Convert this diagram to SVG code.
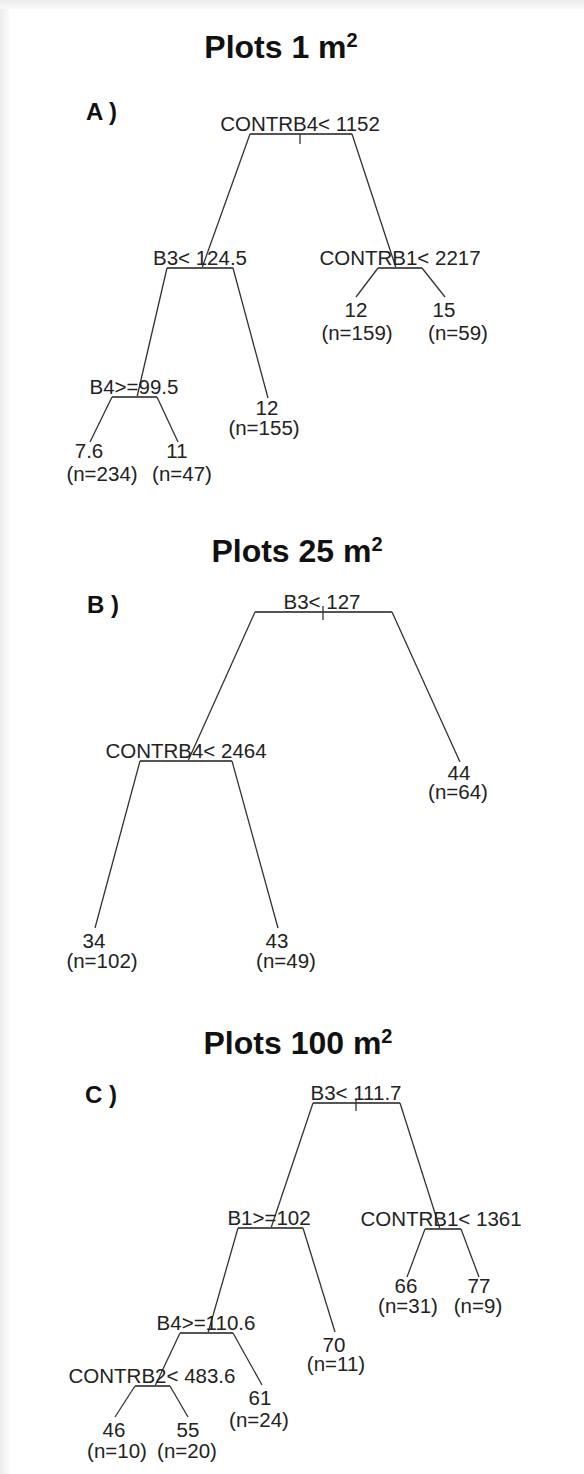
<svg xmlns="http://www.w3.org/2000/svg" width="584" height="1474" viewBox="0 0 584 1474">
<defs>
<linearGradient id="gt" x1="0" y1="0" x2="0" y2="1"><stop offset="0" stop-color="#ececec"/><stop offset="1" stop-color="#f9f9f9"/></linearGradient>
<linearGradient id="gl" x1="0" y1="0" x2="1" y2="0"><stop offset="0" stop-color="#ececec"/><stop offset="1" stop-color="#fafafa"/></linearGradient>
<style>
.title{font-family:"Liberation Sans",Arial,sans-serif;font-weight:bold;font-size:32px;fill:#111;text-anchor:middle}
.sup{font-size:20px}
.panel{font-family:"Liberation Sans",Arial,sans-serif;font-weight:bold;font-size:24px;fill:#111}
.lbl{font-family:"Liberation Sans",Arial,sans-serif;font-size:20.5px;fill:#222;text-anchor:middle}
.br{stroke:#333;stroke-width:1.3;fill:none}
.bar{stroke:#555;stroke-width:1.8;fill:none}
</style>
</defs>
<rect width="584" height="1474" fill="#fff"/>
<rect x="0" y="0" width="584" height="9" fill="url(#gt)"/>
<rect x="0" y="9" width="9" height="1465" fill="url(#gl)"/>

<!-- Panel A -->
<text class="title" x="281" y="58">Plots 1 m<tspan class="sup" dy="-11">2</tspan></text>
<text class="panel" x="86" y="120">A )</text>
<g id="connectors-A">
<line class="bar" x1="250" y1="134" x2="352" y2="134"/>
<line class="br" x1="300" y1="134" x2="300" y2="144"/>
<line class="br" x1="250" y1="134" x2="202" y2="268"/>
<line class="br" x1="352" y1="134" x2="396" y2="268"/>
<line class="bar" x1="167" y1="268" x2="233" y2="268"/>
<line class="br" x1="167" y1="268" x2="137" y2="397"/>
<line class="br" x1="233" y1="268" x2="268" y2="398"/>
<line class="bar" x1="112" y1="397" x2="157" y2="397"/>
<line class="br" x1="112" y1="397" x2="90" y2="442"/>
<line class="br" x1="157" y1="397" x2="178" y2="442"/>
<line class="bar" x1="378" y1="268" x2="422" y2="268"/>
<line class="br" x1="378" y1="268" x2="356" y2="297"/>
<line class="br" x1="422" y1="268" x2="445" y2="297"/>
</g>
<g id="A-root"><text class="lbl" x="300" y="131">CONTRB4&lt; 1152</text></g>
<g id="A-B3"><text class="lbl" x="200" y="265">B3&lt; 124.5</text></g>
<g id="A-B4"><text class="lbl" x="134" y="394">B4&gt;=99.5</text></g>
<g id="A-CONTRB1"><text class="lbl" x="400" y="265">CONTRB1&lt; 2217</text></g>
<g id="A-leaf1"><text class="lbl" x="89" y="458">7.6</text><text class="lbl" x="102" y="481">(n=234)</text></g>
<g id="A-leaf2"><text class="lbl" x="177" y="458">11</text><text class="lbl" x="182" y="481">(n=47)</text></g>
<g id="A-leaf3"><text class="lbl" x="267" y="415">12</text><text class="lbl" x="264" y="435">(n=155)</text></g>
<g id="A-leaf4"><text class="lbl" x="356" y="317">12</text><text class="lbl" x="357" y="340">(n=159)</text></g>
<g id="A-leaf5"><text class="lbl" x="444" y="317">15</text><text class="lbl" x="458" y="340">(n=59)</text></g>

<!-- Panel B -->
<text class="title" x="297" y="562">Plots 25 m<tspan class="sup" dy="-11">2</tspan></text>
<text class="panel" x="87" y="613">B )</text>
<g id="connectors-B">
<line class="bar" x1="255" y1="612" x2="392" y2="612"/>
<line class="br" x1="323" y1="606" x2="323" y2="620"/>
<line class="br" x1="255" y1="612" x2="188" y2="761"/>
<line class="br" x1="392" y1="612" x2="460" y2="762"/>
<line class="bar" x1="140" y1="761" x2="232" y2="761"/>
<line class="br" x1="140" y1="761" x2="95" y2="928"/>
<line class="br" x1="232" y1="761" x2="278" y2="928"/>
</g>
<g id="B-root"><text class="lbl" x="322" y="609">B3&lt; 127</text></g>
<g id="B-CONTRB4"><text class="lbl" x="186" y="758">CONTRB4&lt; 2464</text></g>
<g id="B-leaf1"><text class="lbl" x="94" y="948">34</text><text class="lbl" x="102" y="968">(n=102)</text></g>
<g id="B-leaf2"><text class="lbl" x="277" y="948">43</text><text class="lbl" x="286" y="968">(n=49)</text></g>
<g id="B-leaf3"><text class="lbl" x="459" y="780">44</text><text class="lbl" x="458" y="799">(n=64)</text></g>

<!-- Panel C -->
<text class="title" x="298" y="1054">Plots 100 m<tspan class="sup" dy="-11">2</tspan></text>
<text class="panel" x="85" y="1103">C )</text>
<g id="connectors-C">
<line class="bar" x1="313" y1="1103" x2="400" y2="1103"/>
<line class="br" x1="356" y1="1100" x2="356" y2="1111"/>
<line class="br" x1="313" y1="1103" x2="271" y2="1228"/>
<line class="br" x1="400" y1="1103" x2="440" y2="1229"/>
<line class="bar" x1="238" y1="1228" x2="303" y2="1228"/>
<line class="br" x1="238" y1="1228" x2="208" y2="1333"/>
<line class="br" x1="303" y1="1228" x2="335" y2="1332"/>
<line class="bar" x1="425" y1="1229" x2="461" y2="1229"/>
<line class="br" x1="425" y1="1229" x2="407" y2="1277"/>
<line class="br" x1="461" y1="1229" x2="479" y2="1277"/>
<line class="bar" x1="180" y1="1333" x2="233" y2="1333"/>
<line class="br" x1="180" y1="1333" x2="155" y2="1386"/>
<line class="br" x1="233" y1="1333" x2="262" y2="1385"/>
<line class="bar" x1="135" y1="1386" x2="170" y2="1386"/>
<line class="br" x1="135" y1="1386" x2="115" y2="1417"/>
<line class="br" x1="170" y1="1386" x2="188" y2="1417"/>
</g>
<g id="C-root"><text class="lbl" x="356" y="1100">B3&lt; 111.7</text></g>
<g id="C-B1"><text class="lbl" x="269" y="1225">B1&gt;=102</text></g>
<g id="C-CONTRB1"><text class="lbl" x="441" y="1226">CONTRB1&lt; 1361</text></g>
<g id="C-B4"><text class="lbl" x="206" y="1330">B4&gt;=110.6</text></g>
<g id="C-CONTRB2"><text class="lbl" x="152" y="1383">CONTRB2&lt; 483.6</text></g>
<g id="C-leaf1"><text class="lbl" x="114" y="1437">46</text><text class="lbl" x="117" y="1458">(n=10)</text></g>
<g id="C-leaf2"><text class="lbl" x="188" y="1437">55</text><text class="lbl" x="187" y="1458">(n=20)</text></g>
<g id="C-leaf3"><text class="lbl" x="260" y="1405">61</text><text class="lbl" x="259" y="1427">(n=24)</text></g>
<g id="C-leaf4"><text class="lbl" x="334" y="1352">70</text><text class="lbl" x="336" y="1371">(n=11)</text></g>
<g id="C-leaf5"><text class="lbl" x="406" y="1293">66</text><text class="lbl" x="408" y="1313">(n=31)</text></g>
<g id="C-leaf6"><text class="lbl" x="479" y="1293">77</text><text class="lbl" x="478" y="1313">(n=9)</text></g>
</svg>
